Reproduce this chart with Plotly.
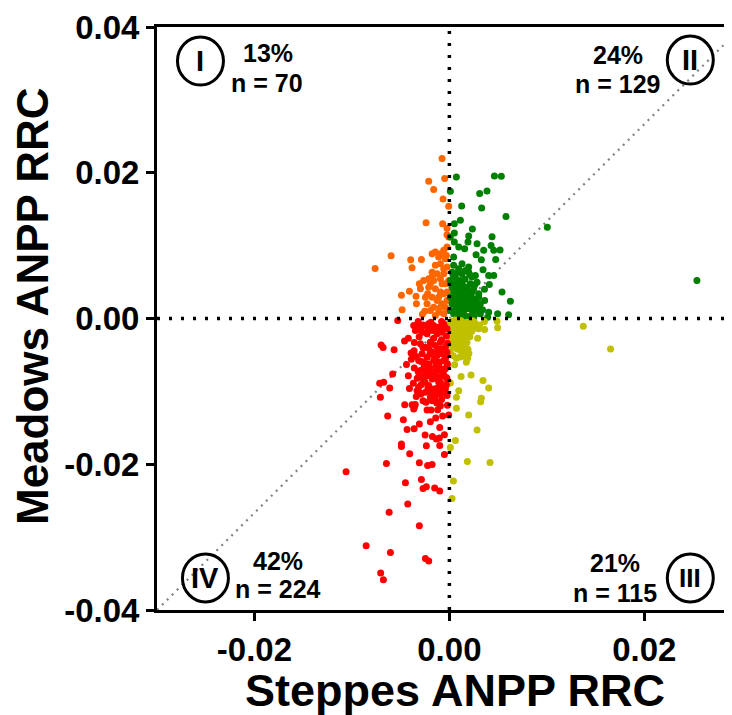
import plotly.graph_objects as go

# ---- data ----
q1_x = [-0.00075, -0.00212, -0.00161, -0.00048, -0.00065, -0.00007, -0.00239, -0.00069, -0.00024,
        -0.00598, -0.00762, -0.00397, -0.00287, -0.00383, -0.00492, -0.0041, -0.00342, -0.00338,
        -0.00308, -0.00297, -0.00485, -0.00253, -0.00277,
        -0.00024, -0.00058, -0.00092, -0.00144, -0.00177, -0.0011, -0.00092, -0.00144, -0.00058,
        -0.00126, -0.00177, -0.00212, -0.00161, -0.00092, -0.00058, -0.00041, -0.00212, -0.00144,
        -0.00092, -0.00058, -0.00177, -0.00126, -0.00075, -0.00041, -0.00161, -0.00195, -0.0011,
        -0.00058, -0.00144, -0.00024, -0.00024, -0.00024, -0.00031, -0.00223, -0.00246, -0.00177,
        -0.00075, -0.00041, -0.00007, -0.00024, -0.00264, -0.00195, -0.0011, -0.00229, -0.00092,
        -0.00007, -0.00007]
q1_y = [0.02195, 0.01883, 0.01769, 0.0192, 0.0164, 0.0154, 0.01315, 0.0130, 0.0124,
        0.00862, 0.00687, 0.00807, 0.00811, 0.00697, 0.0032, 0.00375, 0.00307, 0.00202,
        0.00477, 0.00408, 0.0012, 0.001, 0.0006,
        0.0098, 0.00935, 0.00889, 0.00911, 0.00889, 0.00843, 0.00752, 0.00729, 0.00683,
        0.00614, 0.00568, 0.00546, 0.00522, 0.00546, 0.00614, 0.00477, 0.0043, 0.00408,
        0.00362, 0.0034, 0.00293, 0.00247, 0.00202, 0.00155, 0.00155, 0.0011, 0.00087,
        0.00065, 0.00041, 0.00247, 0.00362, 0.00705, 0.00866, 0.0034, 0.00293, 0.00636,
        0.00477, 0.00821, 0.01118, 0.0115, 0.00522, 0.00477, 0.00293, 0.00202, 0.00155,
        0.0011, 0.00522]

q2_x = [0.00072, 0.00462, 0.00533, 0.0001, 0.00311, 0.00386, 0.00126, 0.00331, 0.00581, 0.00113,
        0.00051, 0.00236, 0.00051, 0.0001, 0.00198, 0.00191, 0.00438, 0.00051, 0.00096, 0.00157,
        0.00284, 0.00352, 0.00428, 0.00455, 0.0052, 0.00274, 0.00328, 0.00475, 0.00044, 0.0013,
        0.00198, 0.00044, 0.00079, 0.0013, 0.00198, 0.00267, 0.00345, 0.00403, 0.00455, 0.0041,
        0.0054, 0.00626, 0.00362, 0.00608, 0.00495, 0.00403, 0.01005, 0.0254,
        0.0001, 0.00062, 0.00113, 0.00164, 0.00215, 0.00249, 0.00044, 0.00096, 0.00147, 0.00198,
        0.00249, 0.00027, 0.00079, 0.0013, 0.00181, 0.00232, 0.00267, 0.00044, 0.00096, 0.00147,
        0.00198, 0.00249, 0.00062, 0.00232, 0.00267, 0.00113, 0.00164, 0.00215, 0.0001, 0.00062,
        0.00027, 0.00096, 0.00164, 0.00232, 0.00284, 0.00301, 0.00318, 0.00027, 0.0001, 0.0013,
        0.00181, 0.00284, 0.00393, 0.00113, 0.00079, 0.00147, 0.00198, 0.00096, 0.00044, 0.0013,
        0.00079, 0.00164, 0.00232, 0.00318,
        0.0006, 0.0012, 0.0019, 0.0027, 0.0004, 0.0009, 0.0016, 0.0022, 0.0030, 0.0006,
        0.0012, 0.0018, 0.0026, 0.0003, 0.0009, 0.0016, 0.0021, 0.0004, 0.0036, 0.0034]
q2_y = [0.01943, 0.01956, 0.01952, 0.01746, 0.01714, 0.0175, 0.01544, 0.01516, 0.01398, 0.01347,
        0.0130, 0.01228, 0.01173, 0.01118, 0.01131, 0.01049, 0.01123, 0.01049, 0.0098, 0.00958,
        0.01027, 0.00935, 0.01003, 0.00935, 0.00939, 0.00876, 0.00807, 0.00811, 0.00843, 0.00752,
        0.00705, 0.00729, 0.00636, 0.00614, 0.00636, 0.00591, 0.00669, 0.00591, 0.00591, 0.00467,
        0.00362, 0.00238, 0.00247, 0.00051, 0.00065, 0.00087, 0.01251, 0.00522,
        0.00522, 0.00477, 0.00522, 0.0043, 0.00477, 0.00408, 0.00362, 0.0034, 0.00293, 0.00316,
        0.00271, 0.00202, 0.00155, 0.00179, 0.00133, 0.0011, 0.00179, 0.00065, 0.00041, 0.00065,
        0.00027, 0.00018, 0.00568, 0.00362, 0.00065, 0.0043, 0.00224, 0.00202, 0.00293, 0.00247,
        0.00636, 0.00683, 0.0066, 0.00568, 0.00499, 0.0034, 0.00202, 0.0043, 0.0011, 0.0011,
        0.00385, 0.00133, 0.00018, 0.00247, 0.00408, 0.00362, 0.00247, 0.00271, 0.00477, 0.00477,
        0.00087, 0.00018, 0.00041, 0.00065,
        0.0012, 0.0015, 0.0018, 0.0024, 0.0025, 0.0021, 0.0027, 0.0030, 0.0029, 0.0033,
        0.0039, 0.0043, 0.0046, 0.0045, 0.0050, 0.0054, 0.0060, 0.0059, 0.0040, 0.0012]

q3_x = [0.01374, 0.01654, 0.00489, 0.00495, 0.00362, 0.0029, 0.00181, 0.00198, 0.00174, 0.00301,
        0.0001, 0.00062, 0.00113, 0.00044, 0.00096, 0.00147, 0.00027, 0.00079, 0.0013, 0.00062,
        0.0001, 0.00113, 0.00164, 0.00044, 0.00096, 0.00191, 0.00147, 0.00188, 0.00174, 0.00072,
        0.00054, 0.0012, 0.00222, 0.00345, 0.00403, 0.0001, 0.00096, 0.00072, 0.00328, 0.00321,
        0.00072, 0.00198, 0.00284, 0.00062, 0.0001, 0.00185, 0.00417, 0.00041, 0.00027,
        0.0003, 0.0008, 0.0015, 0.0005, 0.0012, 0.0018, 0.0004, 0.0009, 0.0016, 0.0006,
        0.0021, 0.0002, 0.0011, 0.0026, 0.0031, 0.0023,
        0.0004, 0.0010, 0.0017, 0.0022, 0.0007, 0.0014, 0.0019, 0.0003, 0.0008, 0.0013,
        0.0005, 0.0018, 0.0010, 0.0003, 0.0008, 0.0015, 0.0004, 0.0011, 0.0020, 0.0027,
        0.0024, 0.0036, 0.0012, 0.0006, 0.0001]
q3_y = [-0.00106, -0.00417, -0.00037, -0.00128, -0.00151, -0.00271, -0.00051, -0.00119, -0.00202, -0.00142,
        -0.00073, -0.00096, -0.00142, -0.00188, -0.00234, -0.00257, -0.00279, -0.00326, -0.00348, -0.00394,
        -0.00463, -0.0044, -0.00394, -0.00051, -0.00073, -0.00421, -0.00518, -0.00546, -0.006, -0.00546,
        -0.00636, -0.00797, -0.00774, -0.00852, -0.00953, -0.00884, -0.0099, -0.01082, -0.01096, -0.01141,
        -0.01233, -0.01324, -0.0153, -0.01673, -0.01769, -0.01961, -0.01975, -0.02231, -0.0247,
        -0.0004, -0.0006, -0.0009, -0.0013, -0.0017, -0.0014, -0.0022, -0.0028, -0.003, -0.0035,
        -0.0025, -0.0031, -0.0038, -0.0006, -0.0009, -0.0018,
        -0.0009, -0.0011, -0.0006, -0.0010, -0.0016, -0.0021, -0.0023, -0.0018, -0.0024, -0.0027,
        -0.0029, -0.0033, -0.0033, -0.0038, -0.0042, -0.0045, -0.0051, -0.0053, -0.0048, -0.0013,
        -0.0003, -0.0004, -0.0003, -0.0002, -0.0015]

q4_x = [-0.0053, -0.00366, -0.00315, -0.00264, -0.00212, -0.00161, -0.0011, -0.00058, -0.00349, -0.0028,
        -0.00229, -0.00177, -0.00126, -0.00075, -0.00024, -0.00421, -0.007, -0.0068, -0.00567, -0.00393,
        -0.00362, -0.00297, -0.00246, -0.00195, -0.00144, -0.00092, -0.00041, -0.0028, -0.00229, -0.00177,
        -0.00126, -0.00075, -0.00024, -0.00315, -0.00264, -0.00212, -0.00161, -0.0011, -0.00058, -0.00024,
        -0.00297, -0.00246, -0.00195, -0.00144, -0.00092, -0.00041, -0.0028, -0.00229, -0.00177, -0.00126,
        -0.00075, -0.00024, -0.00582, -0.00421, -0.00715, -0.00674, -0.00612, -0.00708, -0.00264, -0.00315,
        -0.00212, -0.00161, -0.00092, -0.00041, -0.00297, -0.00246, -0.00195, -0.00126, -0.00075, -0.00024,
        -0.00331, -0.0027, -0.00177, -0.00092, -0.00458, -0.00383, -0.00366, -0.00359, -0.00229, -0.00188,
        -0.0012, -0.00092, -0.00069, -0.00007, -0.00633, -0.0014, -0.00195, -0.00099, -0.00472, -0.00308,
        -0.00362, -0.00434, -0.00249, -0.00174, -0.00133, -0.00103, -0.00051, -0.00492, -0.00492, -0.00236,
        -0.00099, -0.00407, -0.00051, -0.00646, -0.00308, -0.00223, -0.00177, -0.0106, -0.00451, -0.00287,
        -0.0027, -0.00236, -0.00151, -0.00099, -0.00427, -0.00618, -0.00308, -0.00854, -0.00605, -0.00246,
        -0.00212, -0.00705, -0.00677,
        -0.0032, -0.0019, -0.0008, -0.0003, -0.0016, -0.0031, -0.0036, -0.0021, -0.0009, -0.0004,
        -0.0015, -0.0026, -0.0036, -0.0018, -0.0006, -0.0011, -0.0022, -0.0029, -0.0006, -0.0016,
        -0.0034, -0.0008, -0.0002, -0.0013, -0.0024, -0.0039, -0.0046, -0.0044, -0.0033, -0.0041,
        -0.0027, -0.0013, -0.0005, -0.0022, -0.0030, -0.0008, -0.0019, -0.0027, -0.0012, -0.0002,
        -0.0034, -0.0020, -0.0010, -0.0029, -0.0002, -0.0014, -0.0023, -0.0032, -0.0009, -0.0003,
        -0.0016, -0.0025, -0.0037, -0.0012, -0.0003, -0.0020, -0.0029, -0.0009, -0.0015, -0.0035]
q4_y = [-0.00027, -0.00096, -0.00119, -0.00096, -0.00073, -0.00096, -0.00119, -0.00073, -0.00165, -0.00188,
        -0.0021, -0.00165, -0.0021, -0.00188, -0.00142, -0.00271, -0.00362, -0.00399, -0.0043, -0.00472,
        -0.00444, -0.00348, -0.00394, -0.00326, -0.00371, -0.00326, -0.00394, -0.00485, -0.00532, -0.00463,
        -0.00509, -0.00485, -0.00463, -0.00577, -0.006, -0.00623, -0.00577, -0.00623, -0.00577, -0.00646,
        -0.00715, -0.00738, -0.00691, -0.00738, -0.00715, -0.00691, -0.00806, -0.00784, -0.00829, -0.00806,
        -0.00784, -0.00829, -0.0076, -0.00784, -0.00889, -0.00875, -0.00953, -0.01082, -0.00852, -0.00944,
        -0.00921, -0.00967, -0.00921, -0.00967, -0.01035, -0.01013, -0.01082, -0.01035, -0.01013, -0.01058,
        -0.0099, -0.01127, -0.01127, -0.00876, -0.01182, -0.01182, -0.01241, -0.01219, -0.01255, -0.01255,
        -0.01251, -0.01196, -0.01337, -0.01324, -0.01337, -0.01365, -0.01416, -0.01494, -0.01388, -0.01448,
        -0.01512, -0.01522, -0.01599, -0.01618, -0.01654, -0.0164, -0.01595, -0.01723, -0.01755, -0.01746,
        -0.01741, -0.01856, -0.01865, -0.01989, -0.01979, -0.02016, -0.02003, -0.02103, -0.02254, -0.02209,
        -0.02333, -0.02309, -0.02327, -0.02368, -0.02547, -0.02657, -0.02845, -0.0312, -0.03212, -0.03295,
        -0.03326, -0.03491, -0.03584,
        -0.0004, -0.0005, -0.0004, -0.0024, -0.0027, -0.0025, -0.0033, -0.0041, -0.0042, -0.0055,
        -0.0055, -0.0067, -0.0068, -0.0075, -0.0076, -0.0087, -0.0094, -0.0091, -0.0098, -0.0104,
        -0.0107, -0.0111, -0.0119, -0.0116, -0.0115, -0.0056, -0.0031, -0.0063, -0.0082, -0.0096,
        -0.0009, -0.0013, -0.0011, -0.0015, -0.0015, -0.0029, -0.0033, -0.0040, -0.0044, -0.0034,
        -0.0052, -0.0049, -0.0060, -0.0059, -0.0062, -0.0065, -0.0071, -0.0073, -0.0069, -0.0081,
        -0.0082, -0.0087, -0.0089, -0.0095, -0.0091, -0.0100, -0.0103, -0.0104, -0.0110, -0.0118]

x_ticks = [-0.02, 0.0, 0.02]
y_ticks = [-0.04, -0.02, 0.0, 0.02, 0.04]
x_ticktext = ["-0.02", "0.00", "0.02"]
y_ticktext = ["-0.04", "-0.02", "0.00", "0.02", "0.04"]
x_range = [-0.03, 0.029]
y_range = [-0.04, 0.04]
diag_x = [-0.03, 0.03]
diag_y = [-0.04, 0.04]
x_title = "Steppes ANPP RRC"
y_title = "Meadows ANPP RRC"

quad_numerals = ["I", "II", "III", "IV"]
quad_pct = ["13%", "24%", "21%", "42%"]
quad_n = ["n = 70", "n = 129", "n = 115", "n = 224"]

colors = ["#FF6600", "#008000", "#C0C000", "#FF0000"]
FONT = "Liberation Sans, Arial, sans-serif"

fig = go.Figure()

# reference diagonal
fig.add_trace(go.Scatter(x=diag_x, y=diag_y, mode="lines",
                         line=dict(color="#808080", width=2.2, dash="2px,5px"),
                         hoverinfo="skip", showlegend=False))

for xs, ys, c in [(q1_x, q1_y, colors[0]), (q2_x, q2_y, colors[1]),
                  (q3_x, q3_y, colors[2]), (q4_x, q4_y, colors[3])]:
    fig.add_trace(go.Scatter(x=xs, y=ys, mode="markers",
                             marker=dict(color=c, size=7, line=dict(width=0)),
                             showlegend=False))

shapes = [
    dict(type="line", xref="x", yref="y", x0=0, x1=0, y0=y_range[0], y1=y_range[1],
         line=dict(color="black", width=3.5, dash="3px,9px"), layer="above"),
    dict(type="line", xref="x", yref="y", x0=x_range[0], x1=x_range[1], y0=0, y1=0,
         line=dict(color="black", width=3.5, dash="3px,9px"), layer="above"),
]

# positions of quadrant labels (layout only)
circ_pos = [(-0.02554, 0.03533), (0.02472, 0.03546), (0.02472, -0.0356), (-0.02503, -0.0356)]
pct_pos = [(-0.01856, 0.03643), (0.01733, 0.03615), (0.01703, -0.03354), (-0.01754, -0.03326)]
n_pos = [(-0.01867, 0.0323), (0.01723, 0.03216), (0.01703, -0.03766), (-0.01754, -0.03711)]

annotations = []
for i in range(4):
    cx, cy = circ_pos[i]
    shapes.append(dict(type="circle", xref="x", yref="y", xsizemode="pixel", ysizemode="pixel",
                       xanchor=cx, yanchor=cy, x0=-23, x1=23, y0=-24, y1=24,
                       line=dict(color="black", width=3), layer="above"))
    annotations.append(dict(x=cx, y=cy, xref="x", yref="y", text=quad_numerals[i], showarrow=False,
                            font=dict(family=FONT, size=29 if i != 2 else 26, color="black", weight="bold")))
    annotations.append(dict(x=pct_pos[i][0], y=pct_pos[i][1], xref="x", yref="y", text=quad_pct[i],
                            showarrow=False, font=dict(family=FONT, size=25, color="black", weight="bold")))
    annotations.append(dict(x=n_pos[i][0], y=n_pos[i][1], xref="x", yref="y", text=quad_n[i],
                            showarrow=False, font=dict(family=FONT, size=25, color="black", weight="bold")))

# axis titles placed as in the reference
annotations.append(dict(x=0.5183, y=-0.1389, xref="paper", yref="paper", text=x_title, showarrow=False,
                        xanchor="center", yanchor="middle",
                        font=dict(family=FONT, size=45, color="black", weight="bold")))
annotations.append(dict(x=-0.2174, y=0.5214, xref="paper", yref="paper", text=y_title, showarrow=False,
                        textangle=-90, xanchor="center", yanchor="middle",
                        font=dict(family=FONT, size=44, color="black", weight="bold")))

fig.update_layout(
    width=724, height=707,
    margin=dict(l=149, r=0, t=19, b=105),
    plot_bgcolor="white", paper_bgcolor="white",
    shapes=shapes, annotations=annotations,
    xaxis=dict(range=x_range, tickvals=x_ticks, ticktext=x_ticktext,
               automargin=False,
               showgrid=False, zeroline=False, showline=True, linecolor="black", linewidth=3,
               mirror=True, ticks="outside", ticklen=8, tickwidth=3, tickcolor="black",
               tickfont=dict(family=FONT, size=33, color="black", weight="bold")),
    yaxis=dict(range=y_range, tickvals=y_ticks, ticktext=y_ticktext,
               automargin=False,
               showgrid=False, zeroline=False, showline=True, linecolor="black", linewidth=3,
               ticks="outside", ticklen=8, tickwidth=3, tickcolor="black",
               tickfont=dict(family=FONT, size=33, color="black", weight="bold")),
)

fig.write_html("out.html")
